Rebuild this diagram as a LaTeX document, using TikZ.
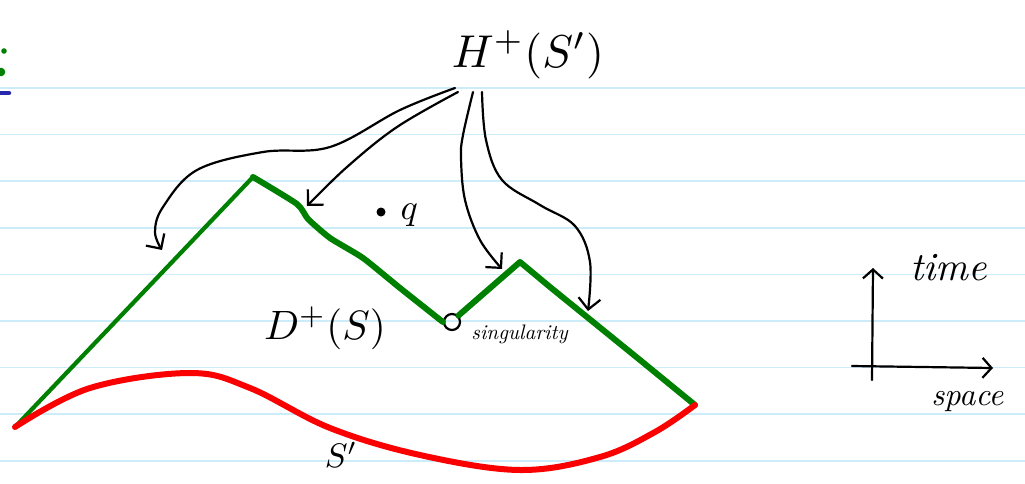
\documentclass[tikz,border=0pt]{standalone}
\usetikzlibrary{arrows.meta}
\definecolor{ggreen}{RGB}{0,128,0}
\definecolor{sred}{RGB}{250,0,0}
\definecolor{paperline}{RGB}{204,236,250}
\definecolor{penblue}{RGB}{40,40,170}
\begin{document}
\begin{tikzpicture}[x=1pt,y=-1pt,
    rule/.style={line width=1.6pt, draw=paperline},
    ink/.style={line width=2.2pt, black, line cap=round, line join=round},
    harrow/.style={ink, -{Straight Barb[length=11pt,width=22pt]}},
    horizon/.style={line width=6pt, draw=ggreen, line join=round, line cap=round},
    slice/.style={line width=6pt, draw=sred, line cap=round}]
    \useasboundingbox (0,0) rectangle (1025,483);
    % notebook ruling
    \foreach \k in {0,...,8}
        \draw[rule] (0,{88+46.6*\k}) -- (1025,{88+46.6*\k});
    % bits of the previous page at the margin
    \fill[ggreen] (4,51) circle (2.8);
    \fill[ggreen] (1,72) circle (4.3);
    \draw[line width=4.5pt, penblue, line cap=round] (-4,93) -- (9,93);

    % labels
    \node[scale=4.6] (H) at (528,55) {$H^{+}(S')$};
    \node[scale=4.1] (D) at (325,328) {$D^{+}(S)$};
    \node[scale=3.4] (Slab) at (341,455) {$S'$};
    \fill (381,212) circle (4.5) coordinate (q);
    \node[scale=3.6, right] (qlab) at (388,215) {$q$};

    % the singularity
    \node[draw, circle, line width=2.2pt, minimum size=16pt, inner sep=0pt] (sing) at (452,322) {};
    \node[scale=2.1, right, font=\itshape] (singlab) at (464,334) {singularity};

    % Cauchy horizon
    \coordinate (c0) at (15,427);
    \coordinate (p1) at (253,177);
    \coordinate (p2) at (520,262);
    \coordinate (c1) at (695,405);
    \draw[horizon, line width=4.2pt] (c0) -- (p1);
    \draw[horizon] plot[smooth, tension=0.35] coordinates {(p1) (297,204) (308,219)
        (330,238) (363,258) (400,288) (sing.west)};
    \draw[horizon] (sing.north east) -- (p2) -- (550,287) -- (587,317)
        -- (640,360) -- (c1);

    % the surface S'
    \draw[slice] plot[smooth, tension=0.6] coordinates {(c0) (90,388) (190,373)
        (250,388) (330,428) (420,455) (520,470) (600,457) (655,432) (c1)};

    % arrows from the horizon label
    \coordinate (t1) at (162,250);
    \coordinate (t2) at (307,206);
    \coordinate (t3) at (502,269);
    \coordinate (t4) at (588,311);
    \draw[harrow] plot[smooth, tension=0.6] coordinates {(455,88) (400,110) (330,147)
        (263,152) (197,170) (163,207) (155,232) (t1)};
    \draw[harrow] plot[smooth, tension=0.6] coordinates {(458,92) (397,127) (347,167) (t2)};
    \draw[harrow] plot[smooth, tension=0.6] coordinates {(473,92) (463,135) (461,158)
        (465,200) (480,240) (t3)};
    \draw[harrow] plot[smooth, tension=0.6] coordinates {(482,92) (486,140) (502,180)
        (540,205) (575,226) (590,262) (t4)};

    % time and space axes
    \coordinate (tup) at (873,268);
    \coordinate (xr) at (993,368);
    \draw[ink, -{Straight Barb[length=9pt,width=20pt]}] (872,380) -- (tup);
    \draw[ink, -{Straight Barb[length=9pt,width=20pt]}] (852,366) -- (xr);
    \node[scale=4, right, font=\itshape] (time) at (896,268) {time};
    \node[scale=3.2, right, font=\itshape] (space) at (920,402) {space};
\end{tikzpicture}
\end{document}
